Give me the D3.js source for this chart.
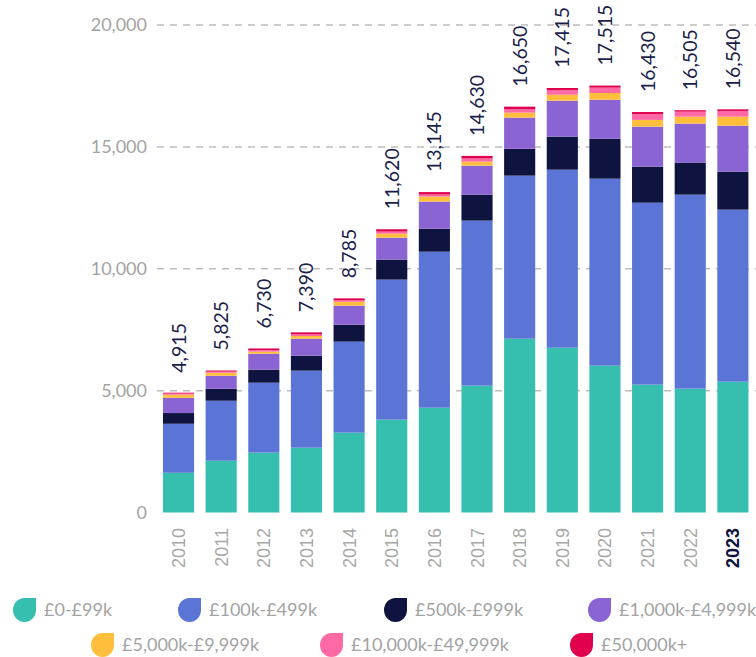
<!doctype html>
<html>
<head>
<meta charset="utf-8">
<title>Funding rounds by size</title>
<style>
body { margin:0; background:#fff; }
svg { display:block; }
</style>
</head>
<body>
<svg width="756" height="657" id="chart"></svg>
<script src="https://d3js.org/d3.v7.min.js"></script>
<script>
var years = ["2010","2011","2012","2013","2014","2015","2016","2017","2018","2019","2020","2021","2022","2023"];
var totals = [4915,5825,6730,7390,8785,11620,13145,14630,16650,17415,17515,16430,16505,16540];

var bands = ["£0-£99k","£100k-£499k","£500k-£999k","£1,000k-£4,999k","£5,000k-£9,999k","£10,000k-£49,999k","£50,000k+"];
var colours = ["#36bfaf","#5a75d5","#0e1340","#8b64d3","#ffbe3c","#ff6aa6","#e0004d"];

// one array per size band, in year order
var b0 = [1630,2125,2455,2660,3275,3810,4300,5205,7130,6760,6025,5245,5080,5365];
var b1 = [2010,2460,2870,3160,3735,5745,6400,6770,6690,7305,7670,7465,7960,7060];
var b2 = [440,490,535,615,695,820,945,1065,1105,1355,1640,1480,1315,1560];
var b3 = [630,535,655,695,780,900,1110,1190,1275,1475,1600,1640,1600,1885];
var b4 = [125,125,85,110,160,165,205,165,205,245,275,275,285,370];
var b5 = [45,45,65,70,60,85,85,130,140,190,220,245,205,235];
var b6 = [35,45,65,80,80,95,100,105,105,85,85,80,60,65];

var yTicks = [0,5000,10000,15000,20000];

var svg = d3.select("#chart");
var series = [b0,b1,b2,b3,b4,b5,b6];

var rows = years.map(function(y, i) {
  var r = {year: y};
  series.forEach(function(s, k) { r[bands[k]] = s[i]; });
  return r;
});
var stacked = d3.stack().keys(bands)(rows);

var x = d3.scaleBand().domain(years).range([157.2, 754.2]).paddingInner(0.27).paddingOuter(0.135);
var y = d3.scaleLinear().domain([0, 20000]).range([512.5, 25]);

// grid
svg.append("g").selectAll("line")
  .data(yTicks.filter(function(d){ return d > 0; }))
  .enter().append("line")
  .attr("x1", 157).attr("x2", 756)
  .attr("y1", function(d){ return y(d); }).attr("y2", function(d){ return y(d); })
  .attr("stroke", "#bdbdbd").attr("stroke-width", 1.5).attr("stroke-dasharray", "7,6");

// y axis labels
svg.append("g").selectAll("text")
  .data(yTicks).enter().append("text")
  .attr("x", 147).attr("y", function(d){ return y(d); })
  .attr("dy", "0.35em").attr("text-anchor", "end")
  .style("font-family", "Lato, sans-serif").style("font-size", "18px")
  .attr("fill", "#a3a3a3")
  .text(function(d){ return d3.format(",")(d); });

// bars
svg.append("g").selectAll("g")
  .data(stacked).enter().append("g")
  .attr("fill", function(d, i){ return colours[i]; })
  .selectAll("rect")
  .data(function(d){ return d; })
  .enter().append("rect")
  .attr("x", function(d){ return x(d.data.year); })
  .attr("width", x.bandwidth())
  .attr("y", function(d){ return y(d[1]); })
  .attr("height", function(d){ return y(d[0]) - y(d[1]); });

// totals
svg.append("g").selectAll("text")
  .data(years).enter().append("text")
  .attr("transform", function(d, i){
    return "translate(" + (x(d) + x.bandwidth() / 2) + "," + (y(totals[i]) - 20) + ") rotate(-90)";
  })
  .attr("dy", "0.36em")
  .style("font-family", "Lato, sans-serif").style("font-size", "19.5px")
  .attr("fill", "#1b1e4b")
  .text(function(d, i){ return d3.format(",")(totals[i]); });

// x labels
svg.append("g").selectAll("text")
  .data(years).enter().append("text")
  .attr("transform", function(d){
    return "translate(" + (x(d) + x.bandwidth() / 2) + ",528) rotate(-90)";
  })
  .attr("dy", "0.36em").attr("text-anchor", "end")
  .style("font-family", "'Liberation Sans', Arial, sans-serif").style("font-size", "18px")
  .style("font-weight", function(d){ return d === "2023" ? "bold" : "normal"; })
  .attr("fill", function(d){ return d === "2023" ? "#0e1340" : "#a8a8a8"; })
  .text(function(d){ return d; });

// legend
var legendPos = [[13,610],[178,610],[384,610],[588,610],[91,645],[320,645],[570,645]];
var iw = 23, ih = 24;
var drop = "M0," + ih/2 + " A" + iw/2 + "," + ih/2 + " 0 0 1 " + iw/2 + ",0 L" + iw + ",0 L" + iw + "," + ih/2 +
  " A" + iw/2 + "," + ih/2 + " 0 0 1 " + iw/2 + "," + ih + " A" + iw/2 + "," + ih/2 + " 0 0 1 0," + ih/2 + " Z";

var leg = svg.append("g").selectAll("g")
  .data(bands).enter().append("g")
  .attr("transform", function(d, i){ return "translate(" + legendPos[i][0] + "," + legendPos[i][1] + ")"; });
leg.append("path")
  .attr("d", drop)
  .attr("transform", "translate(0," + (-ih/2) + ")")
  .attr("fill", function(d, i){ return colours[i]; });
leg.append("text")
  .attr("x", iw + 8).attr("dy", "0.35em")
  .style("font-family", "Lato, sans-serif").style("font-size", "18px")
  .attr("fill", "#a3a3a3")
  .text(function(d){ return d; });
</script>
</body>
</html>
